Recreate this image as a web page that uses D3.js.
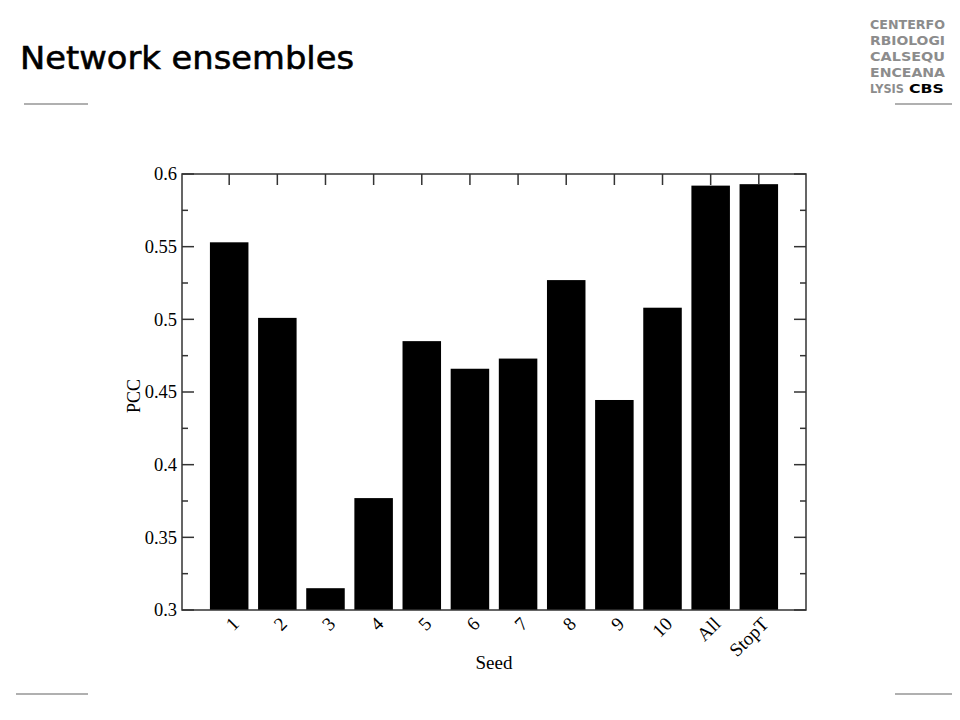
<!DOCTYPE html>
<html>
<head>
<meta charset="utf-8">
<script src="https://cdn.jsdelivr.net/npm/d3@7"></script>
<style>
  html, body { margin: 0; padding: 0; background: #fff; }
  svg { display: block; }
</style>
</head>
<body>
<svg id="chart" width="960" height="720"></svg>
<script>
const categories = ["1", "2", "3", "4", "5", "6", "7", "8", "9", "10", "All", "StopT"];
const pccValues = [0.553, 0.501, 0.315, 0.377, 0.485, 0.466, 0.473, 0.527, 0.4445, 0.508, 0.592, 0.593];
const yTicks = [0.3, 0.35, 0.4, 0.45, 0.5, 0.55, 0.6];
const yMinorTicks = [0.325, 0.375, 0.425, 0.475, 0.525, 0.575];
const logoLines = ["CENTERFO", "RBIOLOGI", "CALSEQU", "ENCEANA"];

(function () {
const svg = d3.select("#chart");
const pL = 182, pR = 806, pT = 174, pB = 610;
const serif = "'Liberation Serif', 'Times New Roman', serif";

const x = d3.scaleBand().domain(categories).range([pL, pR])
  .paddingInner(0.2).paddingOuter(0.58);
const y = d3.scaleLinear().domain([0.3, 0.6]).range([pB, pT]);

// Title
svg.append("text").attr("x", 20).attr("y", 69)
  .attr("font-family", "'DejaVu Sans', sans-serif").attr("font-size", 32)
  .attr("stroke", "#000").attr("stroke-width", 0.6)
  .attr("textLength", 334).attr("lengthAdjust", "spacingAndGlyphs")
  .attr("fill", "#000").text("Network ensembles");

// Decorative grey lines
const lines = [[24, 88, 104], [895, 952, 104], [16, 88, 694], [895, 952, 694]];
svg.selectAll("line.deco").data(lines).enter().append("line")
  .attr("class", "deco")
  .attr("x1", d => d[0]).attr("x2", d => d[1]).attr("y1", d => d[2]).attr("y2", d => d[2])
  .attr("stroke", "#b0b0b0").attr("stroke-width", 2);

// Logo
const logo = svg.append("g").attr("font-family", "'DejaVu Sans Condensed', 'DejaVu Sans', sans-serif")
  .attr("font-weight", "bold").attr("font-size", 13);
logo.selectAll("text.l").data(logoLines).enter().append("text")
  .attr("x", 870).attr("y", (d, i) => 29 + i * 16)
  .attr("fill", "#8c8c8c").attr("textLength", 75).attr("lengthAdjust", "spacingAndGlyphs")
  .text(d => d);
logo.append("text").attr("x", 870).attr("y", 93).attr("fill", "#8c8c8c")
  .attr("textLength", 34).attr("lengthAdjust", "spacingAndGlyphs").text("LYSIS");
logo.append("text").attr("x", 909).attr("y", 93).attr("fill", "#000")
  .attr("textLength", 35).attr("lengthAdjust", "spacingAndGlyphs").text("CBS");

// Bars
svg.selectAll("rect.bar").data(categories).enter().append("rect")
  .attr("class", "bar")
  .attr("x", d => x(d)).attr("width", x.bandwidth())
  .attr("y", (d, i) => y(pccValues[i]))
  .attr("height", (d, i) => pB - y(pccValues[i]))
  .attr("fill", "#000");

// Frame
svg.append("rect").attr("x", pL).attr("y", pT).attr("width", pR - pL).attr("height", pB - pT)
  .attr("fill", "none").attr("stroke", "#333").attr("stroke-width", 1.5);

// Y ticks left & right (inward)
const tickG = svg.append("g").attr("stroke", "#333").attr("stroke-width", 1.5);
yTicks.forEach(v => {
  tickG.append("line").attr("x1", pL).attr("x2", pL + 12).attr("y1", y(v)).attr("y2", y(v));
  tickG.append("line").attr("x1", pR).attr("x2", pR - 12).attr("y1", y(v)).attr("y2", y(v));
});
yMinorTicks.forEach(v => {
  tickG.append("line").attr("x1", pL).attr("x2", pL + 6).attr("y1", y(v)).attr("y2", y(v));
  tickG.append("line").attr("x1", pR).attr("x2", pR - 6).attr("y1", y(v)).attr("y2", y(v));
});
// X ticks top (inward)
categories.forEach(c => {
  const cx = x(c) + x.bandwidth() / 2;
  tickG.append("line").attr("x1", cx).attr("x2", cx).attr("y1", pT).attr("y2", pT + 11);
});

// Y tick labels
const fmt = d3.format("");
svg.selectAll("text.ytick").data(yTicks).enter().append("text")
  .attr("class", "ytick")
  .attr("x", pL - 5).attr("y", d => y(d)).attr("dy", "0.35em")
  .attr("text-anchor", "end")
  .attr("font-family", serif).attr("font-size", 18.5)
  .text(d => fmt(d));

// X tick labels rotated
svg.selectAll("text.xtick").data(categories).enter().append("text")
  .attr("class", "xtick")
  .attr("transform", d => `translate(${x(d) + x.bandwidth() / 2 + 11},${pB + 15}) rotate(-45)`)
  .attr("text-anchor", "end")
  .attr("font-family", serif).attr("font-size", 19)
  .text(d => d);

// Axis titles
svg.append("text").attr("transform", `translate(140,${(pT + pB) / 2 + 4}) rotate(-90)`)
  .attr("text-anchor", "middle")
  .attr("font-family", serif).attr("font-size", 18)
  .text("PCC");
svg.append("text").attr("x", (pL + pR) / 2).attr("y", 669)
  .attr("text-anchor", "middle")
  .attr("font-family", serif).attr("font-size", 19)
  .text("Seed");
})();
</script>
</body>
</html>
